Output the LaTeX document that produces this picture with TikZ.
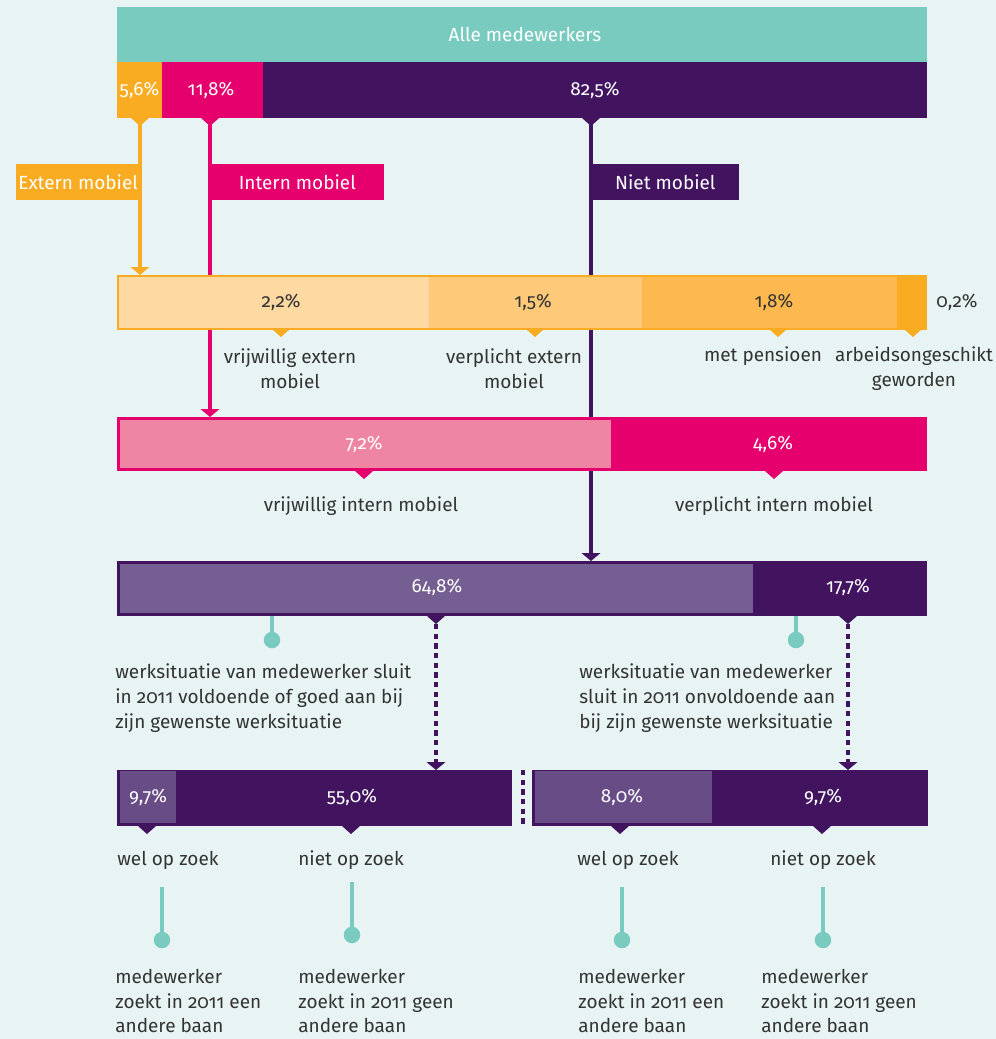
\documentclass[tikz,border=0pt]{standalone}
\usepackage{fontspec}
\setmainfont{Fira Sans}[RawFeature={+onum}]
\usetikzlibrary{arrows.meta}
\definecolor{bg}{HTML}{E8F4F4}
\definecolor{tl}{HTML}{7ACBBF}
\definecolor{orng}{HTML}{F9AB22}
\definecolor{mag}{HTML}{E5006E}
\definecolor{prp}{HTML}{42145F}
\definecolor{oA}{HTML}{FED9A1}
\definecolor{oB}{HTML}{FEC979}
\definecolor{oC}{HTML}{FDB94F}
\definecolor{pk}{HTML}{EE85A3}
\definecolor{pA}{HTML}{755E91}
\definecolor{pB}{HTML}{674C86}
\definecolor{txt}{HTML}{333333}
\tikzset{
  val/.style={text=white, inner sep=0pt},
  valk/.style={text=txt, inner sep=0pt},
  lbl/.style={text=txt, inner sep=0pt, align=center},
  blk/.style={text=txt, inner sep=0pt, align=left, anchor=west},
  tag/.style={text=white, inner sep=0pt, minimum height=0.72cm},
  conn/.style={line width=1.8pt, -{Triangle[width=10.5pt,length=4.5pt]}},
  dconn/.style={conn, dash pattern=on 3pt off 2.5pt},
  pin/.style={draw=tl, line width=1.8pt},
  dot/.style={circle, fill=tl, inner sep=0pt, minimum size=0.33cm},
  ptr/.pic={\fill (-9,0) -- (9,0) -- (0,8) -- cycle;},
}
\begin{document}
\begin{tikzpicture}[x=0.02cm, y=-0.02cm, font=\fontsize{10.8}{14.2}\selectfont]
  \useasboundingbox (0,0) rectangle (996,1039);
  \fill[bg] (0,0) rectangle (996,1039);
  % rows used as targets
  \coordinate (r3) at (117,275);
  \coordinate (r4) at (117,417);
  \coordinate (r5) at (117,561);
  \coordinate (r6) at (117,770);
  \coordinate (pE) at (140,118);
  \coordinate (pI) at (210,118);
  \coordinate (pN) at (591,118);
  \coordinate (pG) at (436,616);
  \coordinate (pO) at (848,616);
  % connectors
  \draw[conn, orng] (pE) -- (pE |- r3);
  \draw[conn, mag] (pI) -- (pI |- r4);
  \draw[conn, prp] (pN) -- (pN |- r5);
  \draw[dconn, prp] ([yshift=-0.16cm]pG) -- (pG |- r6);
  \draw[dconn, prp] ([yshift=-0.16cm]pO) -- (pO |- r6);
  \draw[prp, line width=1.8pt, dash pattern=on 3pt off 2.5pt] (523,770) -- (523,826);
  % all employees
  \fill[tl] (117,7) rectangle (927,62);
  \node[val] (alle) at (525,34) {Alle medewerkers};
  \fill[orng] (117,62) rectangle (162,118);
  \fill[mag] (162,62) rectangle (263,118);
  \fill[prp] (263,62) rectangle (927,118);
  \node[val] (v56) at (139.5,90) {5,6\%};
  \node[val] (v118) at (211,90) {11,8\%};
  \node[val] (v825) at (595,90) {82,5\%};
  \pic[orng] at (pE) {ptr};
  \pic[mag] at (pI) {ptr};
  \pic[prp] at (pN) {ptr};
  \node[tag, fill=orng, anchor=east, minimum width=2.5cm] (ext) at (141,182) {Extern mobiel};
  \node[tag, fill=mag, anchor=west, minimum width=3.48cm] (int) at (210,182) {Intern mobiel};
  \node[tag, fill=prp, anchor=west, minimum width=2.96cm] (niet) at (591,182) {Niet mobiel};
  % extern mobiel
  \fill[oA] (117,275) rectangle (429,329);
  \fill[oB] (429,275) rectangle (642,329);
  \fill[oC] (642,275) rectangle (897,329);
  \fill[orng] (897,275) rectangle (927,329);
  \draw[orng, line width=1.2pt] (118,276) rectangle (926,329);
  \node[valk] (v22) at (281,302) {2,2\%};
  \node[valk] (v15) at (533,302) {1,5\%};
  \node[valk] (v18) at (774,302) {1,8\%};
  \node[valk] (v02) at (957,302) {0,2\%};
  \foreach \x in {281,535,778,913} \pic[orng] at (\x,329) {ptr};
  \node[lbl] (vrE) at (290,368.5) {vrijwillig extern\\mobiel};
  \node[lbl] (vpE) at (514,368.5) {verplicht extern\\mobiel};
  \node[lbl] (pens) at (763,356) {met pensioen};
  \node[lbl] (arb) at (914,368.5) {arbeidsongeschikt\\geworden};
  % intern mobiel
  \fill[mag] (117,417) rectangle (927,471);
  \fill[pk] (120,420) rectangle (611,468);
  \node[val] (v72) at (364,444) {7,2\%};
  \node[val] (v46) at (773,444) {4,6\%};
  \foreach \x in {364,774} \pic[mag] at (\x,471) {ptr};
  \node[lbl] (vrI) at (361,506) {vrijwillig intern mobiel};
  \node[lbl] (vpI) at (774,506) {verplicht intern mobiel};
  % niet mobiel
  \fill[prp] (117,561) rectangle (927,616);
  \fill[pA] (120,564) rectangle (753,613);
  \node[val] (v648) at (437,587) {64,8\%};
  \node[val] (v177) at (848,587) {17,7\%};
  \pic[prp] at (pG) {ptr};
  \pic[prp] at (pO) {ptr};
  \draw[pin] (272,616) -- (272,640) node[dot] (dG) {};
  \draw[pin] (796,616) -- (796,640) node[dot] (dO) {};
  \node[blk] (goed) at (115,698) {werksituatie van medewerker sluit\\in 2011 voldoende of goed aan bij\\zijn gewenste werksituatie};
  \node[blk] (onv) at (579,698) {werksituatie van medewerker\\sluit in 2011 onvoldoende aan\\bij zijn gewenste werksituatie};
  % op zoek
  \fill[prp] (117,770) rectangle (512,826);
  \fill[pB] (120,771) rectangle (176,823);
  \fill[prp] (532,770) rectangle (928,826);
  \fill[pB] (535,771) rectangle (712,823);
  \node[val] (v97a) at (148,797) {9,7\%};
  \node[val] (v550) at (352,797) {55,0\%};
  \node[val] (v80) at (622,797) {8,0\%};
  \node[val] (v97b) at (823,797) {9,7\%};
  \foreach \x in {147,351,620,822} \pic[prp] at (\x,826) {ptr};
  \node[blk] (welA) at (117,860) {wel op zoek};
  \node[blk] (nietA) at (298,860) {niet op zoek};
  \node[blk] (welB) at (577,860) {wel op zoek};
  \node[blk] (nietB) at (770,860) {niet op zoek};
  \draw[pin] (162,887) -- (162,940) node[dot] (d1) {};
  \draw[pin] (352,882) -- (352,935) node[dot] (d2) {};
  \draw[pin] (622,887) -- (622,940) node[dot] (d3) {};
  \draw[pin] (823,887) -- (823,940) node[dot] (d4) {};
  \node[blk] (zA) at (115,1001) {medewerker\\zoekt in 2011 een\\andere baan};
  \node[blk] (zB) at (298,1001) {medewerker\\zoekt in 2011 geen\\andere baan};
  \node[blk] (zC) at (578,1001) {medewerker\\zoekt in 2011 een\\andere baan};
  \node[blk] (zD) at (761,1001) {medewerker\\zoekt in 2011 geen\\andere baan};
\end{tikzpicture}
\end{document}
